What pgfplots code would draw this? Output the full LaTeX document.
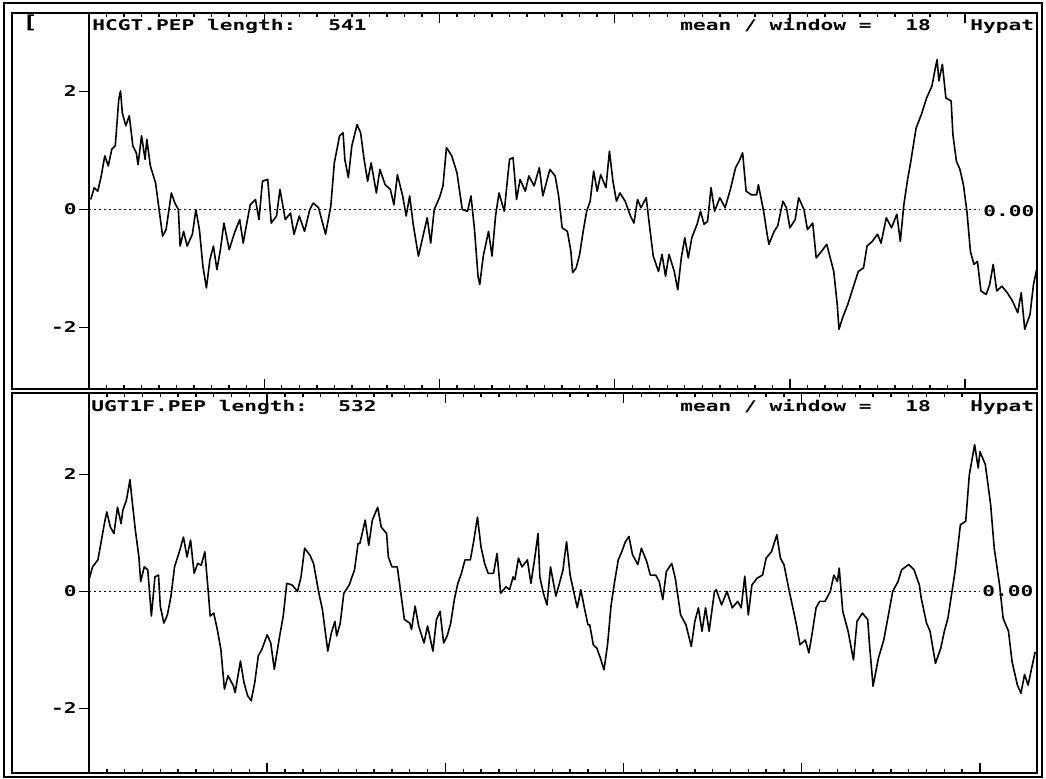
\documentclass[border=0pt]{standalone}
\usepackage{fontspec}
\usepackage{pgfplots}
\pgfplotsset{compat=1.18}
\newfontfamily\dosfont[FakeStretch=1.43]{DejaVu Sans Mono Bold}
\newcommand\dos{\dosfont\fontsize{7.4}{8}\selectfont}

\pgfplotstableread{
x y
1 0.17
3 0.37
5 0.31
7 0.57
9 0.91
11 0.74
13 1.02
15 1.08
17 1.87
18 2.01
19 1.64
21 1.42
23 1.59
25 1.08
27 0.96
28 0.76
30 1.25
32 0.85
33 1.19
35 0.74
38 0.45
40 0
42 -0.45
44 -0.34
47 0.28
49 0.11
51 0
52 -0.62
54 -0.37
56 -0.62
59 -0.42
61 0
63 -0.34
65 -0.96
67 -1.33
69 -0.85
71 -0.62
73 -1.02
75 -0.68
77 -0.23
80 -0.68
83 -0.40
86 -0.17
88 -0.57
89 -0.40
92 0.08
95 0.17
97 -0.17
99 0.48
102 0.51
104 -0.23
107 -0.11
109 0.34
112 -0.17
115 -0.06
117 -0.42
120 -0.11
123 -0.37
126 0
128 0.11
131 0.03
135 -0.42
138 0.06
140 0.79
143 1.25
145 1.30
146 0.85
148 0.54
150 1.08
153 1.44
155 1.30
157 0.85
159 0.48
161 0.79
164 0.28
166 0.68
169 0.42
172 0.34
174 0.08
176 0.59
179 0.23
181 -0.11
183 0.23
185 -0.25
188 -0.79
191 -0.40
193 -0.14
195 -0.57
197 0
200 0.20
202 0.40
204 1.05
207 0.91
210 0.62
213 0
216 -0.03
218 0.23
220 -0.34
222 -1.13
223 -1.27
225 -0.79
228 -0.37
230 -0.79
232 -0.11
234 0.28
237 -0.03
239 0.57
240 0.85
242 0.88
244 0.17
246 0.51
249 0.31
251 0.57
254 0.40
257 0.71
259 0.23
263 0.68
266 0.57
268 0.23
270 -0.31
273 -0.37
275 -0.71
276 -1.07
278 -0.99
280 -0.76
282 -0.37
284 -0.03
286 0.14
288 0.65
290 0.31
292 0.59
295 0.37
297 0.99
299 0.48
301 0.14
303 0.28
306 0.14
309 -0.11
311 -0.23
313 0.17
315 0.03
318 0.20
320 -0.31
322 -0.79
325 -1.05
327 -0.76
329 -1.13
331 -0.76
334 -1.05
336 -1.36
338 -0.82
340 -0.48
342 -0.82
344 -0.48
347 -0.25
349 -0.03
351 -0.25
353 -0.20
355 0.37
357 -0.03
360 0.20
363 0.03
366 0.34
369 0.71
371 0.82
373 0.96
375 0.31
378 0.25
381 0.25
382 0.42
385 -0.03
387 -0.42
388 -0.59
391 -0.37
393 -0.28
396 0.14
398 0.03
400 -0.31
403 -0.17
405 0.20
408 0
410 -0.34
413 -0.23
415 -0.82
418 -0.71
421 -0.59
423 -0.82
425 -1.05
427 -1.61
428 -2.03
430 -1.84
433 -1.61
436 -1.33
439 -1.05
442 -0.99
444 -0.62
447 -0.54
450 -0.42
452 -0.57
455 -0.14
458 -0.31
461 -0.08
463 -0.54
465 0.08
467 0.48
469 0.82
472 1.38
475 1.61
478 1.89
481 2.09
483 2.40
484 2.54
485 2.18
487 2.46
489 1.89
492 1.84
493 1.27
495 0.82
497 0.68
499 0.42
501 -0.03
503 -0.71
505 -0.93
507 -0.88
509 -1.38
512 -1.44
514 -1.27
516 -0.93
518 -1.38
521 -1.30
524 -1.41
527 -1.55
530 -1.75
532 -1.41
534 -2.03
537 -1.78
539 -1.27
541 -0.99
}\hcgt

\pgfplotstableread{
x y
0 0.20
2 0.42
5 0.54
7 0.88
9 1.22
10 1.36
12 1.10
14 0.99
16 1.44
18 1.16
19 1.39
21 1.56
23 1.91
24 1.61
26 1.05
28 0.59
29 0.17
31 0.42
33 0.37
35 -0.42
37 0.25
39 0.28
40 -0.25
42 -0.54
44 -0.40
46 -0.08
48 0.42
51 0.71
53 0.93
55 0.59
57 0.88
59 0.31
61 0.48
63 0.45
65 0.68
67 -0.03
68 -0.42
70 -0.37
72 -0.65
74 -0.99
76 -1.67
78 -1.44
81 -1.61
82 -1.73
85 -1.19
87 -1.56
89 -1.78
91 -1.87
93 -1.56
95 -1.10
97 -0.99
100 -0.74
102 -0.88
104 -1.33
107 -0.76
109 -0.42
111 0.14
114 0.11
117 0
119 0.25
121 0.74
124 0.62
126 0.48
129 -0.03
131 -0.31
134 -1.02
136 -0.71
138 -0.51
139 -0.76
141 -0.54
143 -0.03
146 0.11
149 0.37
151 0.82
152 0.82
155 1.22
157 0.79
159 1.22
162 1.44
164 1.10
167 0.99
168 0.59
170 0.42
173 0.42
175 -0.03
177 -0.48
180 -0.54
181 -0.65
183 -0.25
185 -0.59
188 -0.88
190 -0.59
193 -1.02
195 -0.48
197 -0.34
199 -0.88
201 -0.76
203 -0.54
205 -0.14
207 0.14
209 0.31
211 0.54
214 0.54
216 0.88
218 1.27
220 0.76
222 0.48
224 0.31
227 0.31
229 0.65
231 -0.03
234 0.08
236 0.03
238 0.25
239 0.20
241 0.57
243 0.42
246 0.54
248 0.14
250 0.54
252 0.99
253 0.25
255 -0.03
257 -0.23
259 0.42
262 -0.08
264 0.14
266 0.37
267 0.62
268 0.85
270 0.28
272 0
274 -0.28
276 0.03
278 -0.28
280 -0.57
281 -0.57
283 -0.91
285 -0.97
287 -1.14
289 -1.34
291 -0.91
293 -0.23
295 0.17
297 0.54
299 0.68
301 0.85
303 0.94
305 0.63
308 0.46
310 0.74
313 0.51
315 0.28
318 0.28
320 0.17
322 -0.14
324 0.34
327 0.48
329 0.23
332 -0.40
335 -0.57
338 -0.94
340 -0.51
342 -0.28
344 -0.68
346 -0.28
348 -0.68
351 0
352 0.03
355 -0.23
358 0
361 -0.28
364 -0.17
366 -0.28
368 0.26
370 -0.40
372 0.11
375 0.23
378 0.28
380 0.57
383 0.68
386 0.97
388 0.57
390 0.46
393 0
395 -0.28
397 -0.57
399 -0.91
402 -0.83
404 -1.05
406 -0.68
408 -0.28
410 -0.17
413 -0.17
416 0
418 0.28
420 0.17
421 0.40
423 -0.34
426 -0.68
429 -1.17
431 -0.51
434 -0.37
437 -0.48
438 -0.91
440 -1.62
443 -1.14
446 -0.83
449 -0.34
451 0
454 0.17
456 0.37
460 0.46
463 0.37
466 0.11
467 -0.11
470 -0.54
472 -0.68
475 -1.23
478 -0.97
480 -0.68
482 -0.46
484 -0.06
486 0.34
489 1.14
492 1.20
494 1.99
497 2.51
499 2.11
500 2.39
503 2.17
506 1.48
508 0.74
511 0.11
513 -0.46
516 -0.68
518 -1.20
521 -1.60
523 -1.74
525 -1.42
527 -1.60
529 -1.31
531 -1.03
}\ugt

\pgfplotsset{
  hydro/.style={
    scale only axis,
    width=474pt,
    anchor=south west,
    axis line style={line width=0.8pt},
    tick style={line width=0.7pt, black},
    xtick={0,100,200,300,400,500},
    minor x tick num=9,
    xticklabels={},
    tick align=inside,
    ytick align=outside,
    major tick length=5pt,
    minor tick length=2pt,
    ytick pos=left,
    ytick={-2,0,2},
    yticklabels={-2,0,2},
    yticklabel style={font=\dos, inner sep=1pt},
    clip=true,
  },
}

\begin{document}
\begin{tikzpicture}
\useasboundingbox (0,0) rectangle (523pt,389.5pt);
% frames
\draw[line width=0.8pt] (2pt,1pt) rectangle (521pt,388pt);
\draw[line width=0.8pt] (6pt,195pt) rectangle (518.5pt,383pt);
\draw[line width=0.8pt] (6pt,3pt) rectangle (518.5pt,193pt);
% texts
\node[anchor=north west, inner sep=0, font=\dos\fontsize{9}{9}\selectfont] at (11pt,382.5pt) {[};
\node[anchor=base west, inner sep=0, font=\dos] at (46pt,374pt) {HCGT.PEP length:};
\node[anchor=base west, inner sep=0, font=\dos] at (164pt,374pt) {541};
\node[anchor=base west, inner sep=0, font=\dos] at (340pt,374pt) {mean / window =};
\node[anchor=base west, inner sep=0, font=\dos] at (452.5pt,374pt) {18};
\node[anchor=base west, inner sep=0, font=\dos] at (485pt,374pt) {Hypat};
\node[anchor=base west, inner sep=0, font=\dos] at (45.5pt,183.5pt) {UGT1F.PEP length:};
\node[anchor=base west, inner sep=0, font=\dos] at (169pt,183.5pt) {532};
\node[anchor=base west, inner sep=0, font=\dos] at (340pt,183.5pt) {mean / window =};
\node[anchor=base west, inner sep=0, font=\dos] at (452.5pt,183.5pt) {18};
\node[anchor=base west, inner sep=0, font=\dos] at (485pt,183.5pt) {Hypat};
\node[anchor=base west, inner sep=0, font=\dos] at (491.5pt,281pt) {0.00};
\node[anchor=base west, inner sep=0, font=\dos] at (491pt,91pt) {0.00};

\begin{axis}[hydro,
  at={(44.5pt,195pt)}, height=188pt,
  xmin=0, xmax=541, ymin=-3.042, ymax=3.331]
\addplot[black, line width=0.9pt, dash pattern=on 1pt off 1.5pt] coordinates {(0,0) (508,0)};
\addplot[black, line width=0.8pt, line join=round] table[x=x,y=y] {\hcgt};
\end{axis}

\begin{axis}[hydro,
  at={(44.5pt,3pt)}, height=190pt,
  xmin=0, xmax=532, ymin=-3.103, ymax=3.393]
\addplot[black, line width=0.9pt, dash pattern=on 1pt off 1.5pt] coordinates {(0,0) (500,0)};
\addplot[black, line width=0.8pt, line join=round] table[x=x,y=y] {\ugt};
\end{axis}
\end{tikzpicture}
\end{document}
